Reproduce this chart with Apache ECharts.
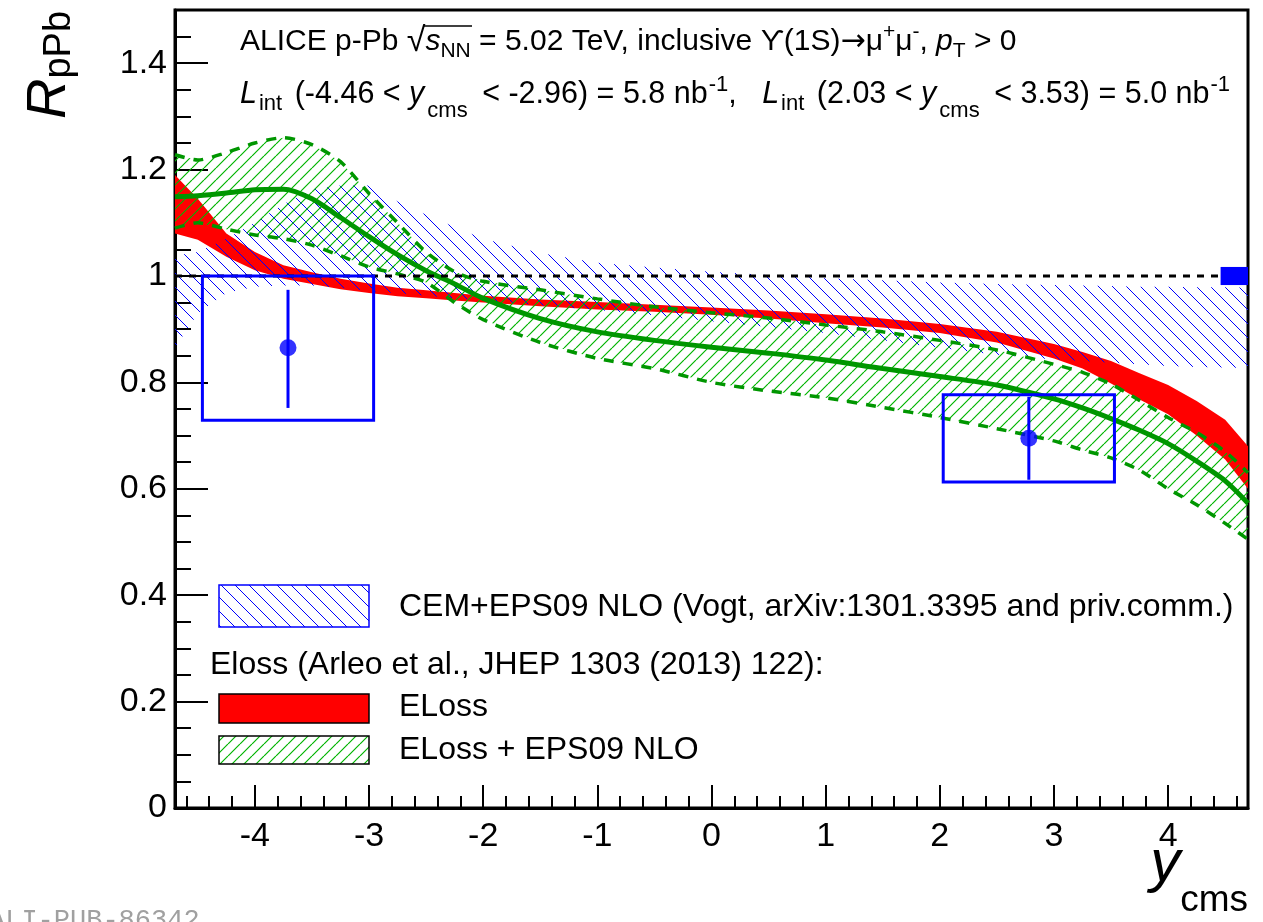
<!DOCTYPE html>
<html>
<head>
<meta charset="utf-8">
<script src="https://cdn.jsdelivr.net/npm/echarts@6/dist/echarts.min.js"></script>
<style>
html, body { margin: 0; padding: 0; background: #fff; }
#chart { width: 1263px; height: 922px; }
</style>
</head>
<body>
<div id="chart"></div>
<script>
var FONT = 'Liberation Sans';

// rapidity grid shared by the model bands
var xs = [-4.7, -4.5, -4.25, -4, -3.75, -3.5, -3.25, -3, -2.75, -2.5, -2.25, -2, -1.5, -1, -0.5,
          0, 0.5, 1, 1.5, 2, 2.5, 3, 3.25, 3.5, 3.75, 4, 4.25, 4.5, 4.7];

// ELoss (red band)
var elossUp  = [1.19, 1.145, 1.08, 1.045, 1.02, 1.007, 0.995, 0.986, 0.978, 0.973, 0.968, 0.963, 0.956, 0.951, 0.946,
                0.941, 0.935, 0.928, 0.920, 0.910, 0.895, 0.872, 0.857, 0.840, 0.817, 0.795, 0.765, 0.730, 0.680];
var elossLow = [1.08, 1.068, 1.036, 1.011, 0.995, 0.985, 0.975, 0.968, 0.962, 0.958, 0.954, 0.950, 0.943, 0.937, 0.933,
                0.927, 0.920, 0.911, 0.903, 0.893, 0.875, 0.845, 0.826, 0.798, 0.768, 0.740, 0.700, 0.655, 0.600];

// ELoss + EPS09 NLO (green band)
var epsUp  = [1.228, 1.218, 1.232, 1.25, 1.26, 1.247, 1.215, 1.155, 1.10, 1.045, 1.008, 0.99, 0.974, 0.957, 0.942,
              0.931, 0.921, 0.908, 0.895, 0.879, 0.861, 0.834, 0.819, 0.797, 0.766, 0.734, 0.706, 0.67, 0.63];
var epsMid = [1.149, 1.151, 1.156, 1.162, 1.163, 1.145, 1.11, 1.074, 1.04, 1.01, 0.985, 0.958, 0.92, 0.895, 0.879,
              0.866, 0.855, 0.842, 0.826, 0.811, 0.795, 0.769, 0.752, 0.732, 0.71, 0.685, 0.652, 0.615, 0.573];
var epsLow = [1.09, 1.10, 1.088, 1.077, 1.07, 1.058, 1.038, 1.017, 1.004, 0.988, 0.95, 0.918, 0.875, 0.845, 0.826,
              0.80, 0.784, 0.771, 0.753, 0.734, 0.713, 0.69, 0.673, 0.658, 0.635, 0.60, 0.57, 0.535, 0.505];

// CEM + EPS09 NLO (blue band)
var cemUp  = [1.038, 1.045, 1.07, 1.10, 1.135, 1.163, 1.17, 1.17, 1.14, 1.115, 1.092, 1.07, 1.043, 1.025, 1.016,
              1.008, 1.002, 0.996, 0.992, 0.988, 0.985, 0.983, 0.982, 0.981, 0.98, 0.98, 0.979, 0.979, 0.978];
var cemLow = [0.865, 0.93, 0.968, 0.98, 0.982, 0.982, 0.978, 0.972, 0.968, 0.963, 0.958, 0.954, 0.945, 0.936, 0.926,
              0.915, 0.904, 0.893, 0.879, 0.865, 0.852, 0.843, 0.84, 0.837, 0.834, 0.831, 0.829, 0.828, 0.827];

// measured points
var pointX   = [-3.71, 2.78];
var pointY   = [0.865, 0.695];
var statLow  = [0.752, 0.617];
var statHigh = [0.974, 0.773];
var boxXLow  = [-4.46, 2.03];
var boxXHigh = [-2.96, 3.53];
var sysLow   = [0.729, 0.613];
var sysHigh  = [1.0, 0.777];

// global uncertainty box at unity
var globX = [4.46, 4.7];
var globY = [0.983, 1.017];

// reference line R = 1
var refX = [-4.7, 4.7];
var refY = [1, 1];

// ticks
var xMajor = [-4, -3, -2, -1, 0, 1, 2, 3, 4];
var yMajor = [0, 0.2, 0.4, 0.6, 0.8, 1, 1.2, 1.4];
var xMinor = [];
for (var t = -46; t <= 46; t += 2) { if (t % 10 !== 0) xMinor.push(t / 10); }
var yMinor = [];
for (var u = 1; u <= 29; u++) { if (u % 4 !== 0) yMinor.push(u / 20); }

function hatch(color, step, dir, w) {
    // small tile with one diagonal line, used as repeat pattern
    var c = document.createElement('canvas');
    c.width = step; c.height = step;
    var g = c.getContext('2d');
    g.strokeStyle = color;
    g.lineWidth = w;
    g.beginPath();
    for (var k = -1; k <= 1; k++) {
        if (dir === '/') { g.moveTo(k * step, step); g.lineTo(k * step + step, 0); }
        else { g.moveTo(k * step, 0); g.lineTo(k * step + step, step); }
    }
    g.stroke();
    return { image: c, repeat: 'repeat' };
}

var blueHatch = hatch('#0000ff', 14, '\\', 1);
var greenHatch = hatch('#00b400', 12, '/', 1.2);

function pairs(xv, yv) {
    var out = [];
    for (var i = 0; i < xv.length; i++) out.push([xv[i], yv[i]]);
    return out;
}

function band(name, up, low, style, z) {
    return {
        type: 'custom', name: name, z: z, silent: true,
        data: [[xs[0], up[0]]],
        renderItem: function (params, api) {
            var pts = [];
            for (var i = 0; i < xs.length; i++) pts.push(api.coord([xs[i], up[i]]));
            for (var j = xs.length - 1; j >= 0; j--) pts.push(api.coord([xs[j], low[j]]));
            return { type: 'polygon', shape: { points: pts }, style: style };
        }
    };
}

function curve(name, yv, width, type, z) {
    return {
        type: 'line', name: name, z: z, silent: true, showSymbol: false, smooth: 0.25,
        data: pairs(xs, yv),
        lineStyle: { color: '#009600', width: width, type: type }
    };
}

var chart = echarts.init(document.getElementById('chart'));

var axisBlack = { color: '#000', width: 3 };
var tickBlack = { color: '#000', width: 2 };

var option = {
    animation: false,
    backgroundColor: '#fff',
    grid: { left: 175, right: 15, top: 10, bottom: 114, outerBoundsMode: 'none',
            show: true, borderColor: '#000', borderWidth: 3, backgroundColor: 'transparent' },
    xAxis: [
        {
            type: 'value', min: -4.7, max: 4.7, position: 'bottom',
            axisLine: { show: true, onZero: false, lineStyle: axisBlack },
            axisTick: { show: true, inside: true, length: 23, customValues: xMajor, lineStyle: tickBlack },
            axisLabel: { customValues: xMajor, fontSize: 34, fontFamily: FONT, color: '#000', margin: 12 },
            splitLine: { show: false }
        },
        {
            type: 'value', min: -4.7, max: 4.7, position: 'bottom',
            axisLine: { show: false, onZero: false },
            axisTick: { show: true, inside: true, length: 12, customValues: xMinor, lineStyle: tickBlack },
            axisLabel: { show: false },
            splitLine: { show: false }
        }
    ],
    yAxis: [
        {
            type: 'value', min: 0, max: 1.5, position: 'left',
            axisLine: { show: true, onZero: false, lineStyle: axisBlack },
            axisTick: { show: true, inside: true, length: 33, customValues: yMajor, lineStyle: tickBlack },
            axisLabel: { customValues: yMajor, fontSize: 34, fontFamily: FONT, color: '#000', margin: 8 },
            splitLine: { show: false }
        },
        {
            type: 'value', min: 0, max: 1.5, position: 'left',
            axisLine: { show: false, onZero: false },
            axisTick: { show: true, inside: true, length: 16, customValues: yMinor, lineStyle: tickBlack },
            axisLabel: { show: false },
            splitLine: { show: false }
        }
    ],
    series: [
        band('ELoss', elossUp, elossLow, { fill: '#ff0000' }, 2),
        band('CEM+EPS09 NLO', cemUp, cemLow, { fill: blueHatch }, 3),
        band('ELoss + EPS09 NLO', epsUp, epsLow, { fill: greenHatch }, 4),
        curve('EPS upper', epsUp, 3.5, [10, 9], 5),
        curve('EPS lower', epsLow, 3.5, [10, 9], 5),
        curve('EPS central', epsMid, 5, 'solid', 6),
        {
            type: 'line', name: 'unity', z: 7, silent: true, showSymbol: false,
            data: pairs(refX, refY),
            lineStyle: { color: '#000', width: 3, type: [7, 7] }
        },
        {
            type: 'custom', name: 'global', z: 8, silent: true,
            data: [[globX[0], globY[0]]],
            renderItem: function (params, api) {
                var a = api.coord([globX[0], globY[1]]);
                var b = api.coord([globX[1], globY[0]]);
                return { type: 'rect', shape: { x: a[0], y: a[1], width: b[0] - a[0], height: b[1] - a[1] },
                         style: { fill: '#0000ff' } };
            }
        },
        {
            type: 'custom', name: 'syst', z: 9, silent: true,
            data: pairs(pointX, pointY),
            renderItem: function (params, api) {
                var i = params.dataIndex;
                var tl = api.coord([boxXLow[i], sysHigh[i]]);
                var br = api.coord([boxXHigh[i], sysLow[i]]);
                var top = api.coord([pointX[i], statHigh[i]]);
                var bot = api.coord([pointX[i], statLow[i]]);
                return { type: 'group', children: [
                    { type: 'rect', shape: { x: tl[0], y: tl[1], width: br[0] - tl[0], height: br[1] - tl[1] },
                      style: { fill: 'none', stroke: '#0000ff', lineWidth: 3 } },
                    { type: 'line', shape: { x1: top[0], y1: top[1], x2: bot[0], y2: bot[1] },
                      style: { stroke: '#0000ff', lineWidth: 3 } }
                ] };
            }
        },
        {
            type: 'scatter', name: 'data', z: 10, silent: true,
            data: pairs(pointX, pointY),
            symbol: 'circle', symbolSize: 17,
            itemStyle: { color: '#0000ff' }
        }
    ],
    graphic: [
        // y-axis title
        { type: 'text', x: 49, y: 119, rotation: Math.PI / 2, z: 20,
          style: { text: '{r|R}{s|pPb}', align: 'left', verticalAlign: 'middle',
                   rich: { r: { fontSize: 56, fontStyle: 'italic', fontFamily: FONT, fill: '#000' },
                           s: { fontSize: 38, fontFamily: FONT, fill: '#000', padding: [22, 0, 0, 0] } } } },
        // x-axis title
        { type: 'text', x: 1248, y: 864, z: 20,
          style: { text: '{y|y}{s|cms}', align: 'right', verticalAlign: 'middle',
                   rich: { y: { fontSize: 60, fontStyle: 'italic', fontFamily: FONT, fill: '#000' },
                           s: { fontSize: 37, fontFamily: FONT, fill: '#000', padding: [74, 0, 0, 0] } } } },
        // header lines
        { type: 'text', x: 240, y: 42, z: 20,
          style: { text: '{n|ALICE p-Pb }{r|√}{i|s}{b|NN}{n| = 5.02 TeV, inclusive ϒ(1S)}{a|→}{n|μ}{p|+}{n|μ}{p|-}{n|, }{i|p}{b|T}{n| > 0}',
                   align: 'left', verticalAlign: 'middle',
                   rich: { n: { fontSize: 30, fontFamily: FONT, fill: '#000' },
                           r: { fontSize: 34, fontFamily: FONT, fill: '#000' },
                           a: { fontSize: 30, fontFamily: 'DejaVu Sans', fill: '#000' },
                           i: { fontSize: 30, fontStyle: 'italic', fontFamily: FONT, fill: '#000' },
                           b: { fontSize: 21, fontFamily: FONT, fill: '#000', padding: [18, 0, 0, 0] },
                           p: { fontSize: 21, fontFamily: FONT, fill: '#000', padding: [0, 0, 20, 0] } } } },
        // overline of the square root
        { type: 'line', z: 20, shape: { x1: 423, y1: 26, x2: 472, y2: 26 }, style: { stroke: '#000', lineWidth: 1.5 } },
        { type: 'text', x: 240, y: 95, z: 20,
          style: { text: '{i|L}{b|int}{n| (-4.46 < }{i|y}{c|cms}{n| < -2.96) = 5.8 nb}{p|-1}{n|,   }{i|L}{b|int}{n| (2.03 < }{i|y}{c|cms}{n| < 3.53) = 5.0 nb}{p|-1}',
                   align: 'left', verticalAlign: 'middle',
                   rich: { n: { fontSize: 30.5, fontFamily: FONT, fill: '#000' },
                           i: { fontSize: 30.5, fontStyle: 'italic', fontFamily: FONT, fill: '#000' },
                           b: { fontSize: 22, fontFamily: FONT, fill: '#000', padding: [18, 4, 0, 2] },
                           c: { fontSize: 22, fontFamily: FONT, fill: '#000', padding: [32, 6, 0, 3] },
                           p: { fontSize: 22, fontFamily: FONT, fill: '#000', padding: [0, 0, 20, 1] } } } },
        // legend
        { type: 'rect', z: 20, shape: { x: 219, y: 585, width: 150, height: 42 },
          style: { fill: blueHatch, stroke: '#0000ff', lineWidth: 1.5 } },
        { type: 'text', x: 399, y: 607, z: 20,
          style: { text: 'CEM+EPS09 NLO (Vogt, arXiv:1301.3395 and priv.comm.)', fontSize: 32, fontFamily: FONT,
                   fill: '#000', align: 'left', verticalAlign: 'middle' } },
        { type: 'text', x: 210, y: 665, z: 20,
          style: { text: 'Eloss (Arleo et al., JHEP 1303 (2013) 122):', fontSize: 32, fontFamily: FONT,
                   fill: '#000', align: 'left', verticalAlign: 'middle' } },
        { type: 'rect', z: 20, shape: { x: 219, y: 694, width: 150, height: 29 },
          style: { fill: '#ff0000', stroke: '#000', lineWidth: 1.5 } },
        { type: 'text', x: 399, y: 707, z: 20,
          style: { text: 'ELoss', fontSize: 32, fontFamily: FONT, fill: '#000', align: 'left', verticalAlign: 'middle' } },
        { type: 'rect', z: 20, shape: { x: 219, y: 736, width: 150, height: 28 },
          style: { fill: greenHatch, stroke: '#000', lineWidth: 1.5 } },
        { type: 'text', x: 399, y: 750, z: 20,
          style: { text: 'ELoss + EPS09 NLO', fontSize: 32, fontFamily: FONT, fill: '#000', align: 'left', verticalAlign: 'middle' } },
        // watermark
        { type: 'text', x: -11, y: 907, z: 20,
          style: { text: 'ALI-PUB-86342', fontSize: 27, fontFamily: 'Liberation Mono', fill: '#a0a0a0',
                   align: 'left', verticalAlign: 'top' } }
    ]
};

chart.setOption(option);
</script>
</body>
</html>
